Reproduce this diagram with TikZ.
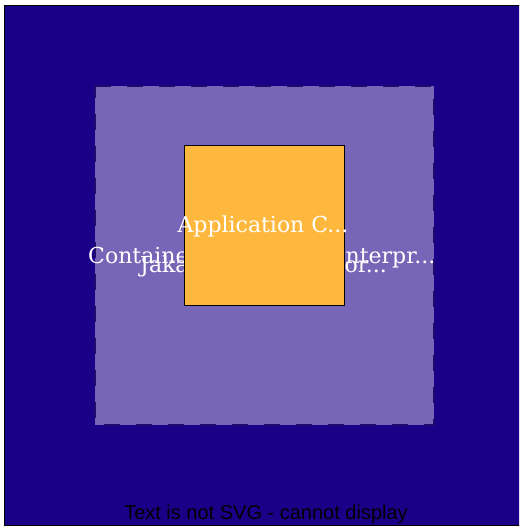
\documentclass[tikz,border=0pt]{standalone}
\usepackage{fontspec}
\setmainfont{DejaVu Serif}
\newfontfamily\captionfont{Liberation Sans}
\definecolor{systemblue}{HTML}{1A0086}
\definecolor{containerpurple}{HTML}{7766B7}
\definecolor{dashnavy}{HTML}{1C0C6E}
\definecolor{apporange}{HTML}{FFB83E}

\begin{document}
\begin{tikzpicture}[x=1pt,y=-1pt,
    label/.style={text=white,font=\fontsize{22}{22}\selectfont,inner sep=0pt,anchor=base}]
    \useasboundingbox (0,0) rectangle (519,527);
    \clip (0,0) rectangle (519,527);

    % Software system
    \filldraw[fill=systemblue,draw=black,thick] (4.5,5.5) rectangle (522,525.5);

    % Container boundary (middle of its labels lies under the component)
    \filldraw[fill=containerpurple,draw=dashnavy,line width=2pt,dash pattern=on 16pt off 16pt,dash phase=4pt]
        (95,86) rectangle (434,425);
    \node[label,anchor=base west] (containername) at (88,263)
        {Containe\makebox[157pt]{\small r for Jakarta E}nterpr...};
    \node[label,anchor=base west] (containertech) at (140,272)
        {Jaka\makebox[156pt]{\small rta EE Simulat}or...};

    % Application component
    \filldraw[fill=apporange,draw=black,thick] (184.5,145.5) rectangle (344.5,305);
    \node[label] (appname) at (263,232) {Application C...};

    % Fallback note
    \node[anchor=base,inner sep=0pt,font=\captionfont\fontsize{20}{20}\selectfont] (fallback) at (266,519) {Text is not SVG - cannot display};
\end{tikzpicture}
\end{document}
